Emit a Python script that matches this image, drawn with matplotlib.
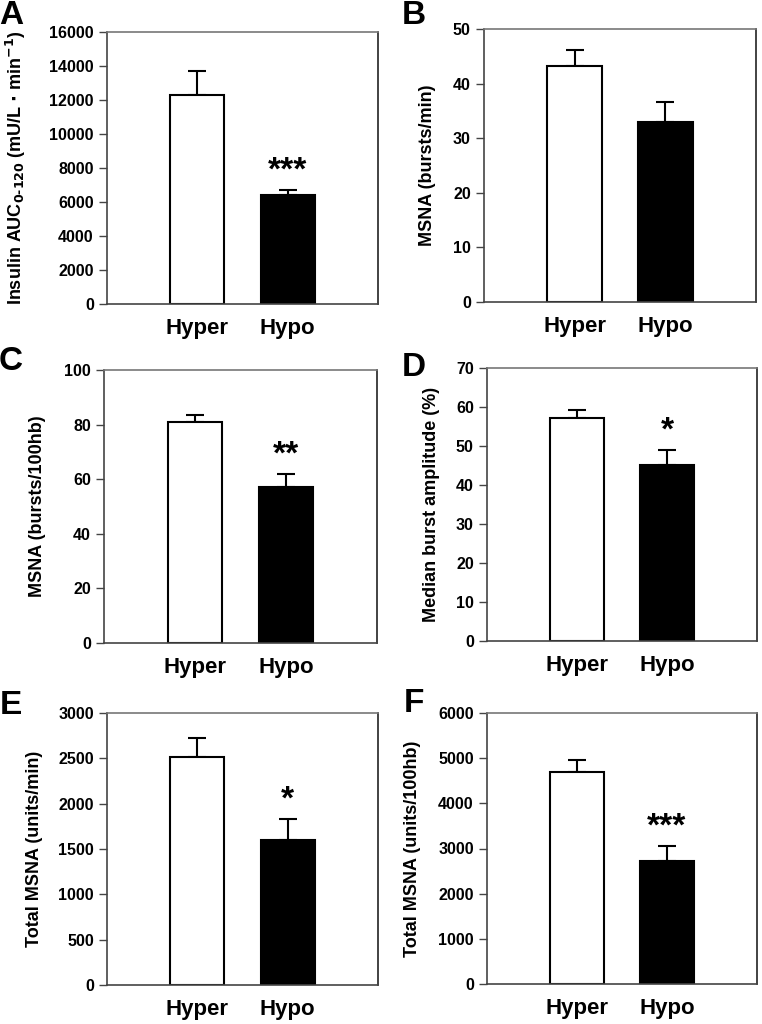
import numpy as np
import matplotlib.pyplot as plt

plt.rcParams['font.family'] = ['Liberation Sans', 'DejaVu Sans']
plt.rcParams['font.weight'] = 'bold'

groups = ['Hyper', 'Hypo']

insulin_auc = [12300, 6400]
insulin_sem = [1400, 300]

msna_freq = [43.3, 33.0]
msna_freq_sem = [2.9, 3.7]

msna_inc = [81.0, 57.0]
msna_inc_sem = [2.5, 5.0]

burst_amp = [57.2, 45.2]
burst_amp_sem = [2.0, 3.8]

total_min = [2510, 1600]
total_min_sem = [210, 230]

total_hb = [4700, 2720]
total_hb_sem = [250, 330]

stars = {'A': '***', 'B': '', 'C': '**', 'D': '*', 'E': '*', 'F': '***'}

W, H = 762, 1024
fig = plt.figure(figsize=(W / 100, H / 100), dpi=100)

# (letter, values, sem, ymax, step, ylabel, axes px box l,r,t,b, label x, letter xy)
panels = [
    ('A', insulin_auc, insulin_sem, 16000, 2000,
     r'Insulin AUC$_{\mathbf{0\text{-}120}}$ (mU/L $\cdot$ min$^{\mathbf{-1}}$)',
     (107, 378, 32, 304), -0.292, (11, 15)),
    ('B', msna_freq, msna_freq_sem, 50, 10, 'MSNA (bursts/min)',
     (484, 756, 29, 302), -0.177, (414, 15)),
    ('C', msna_inc, msna_inc_sem, 100, 20, 'MSNA (bursts/100hb)',
     (104, 377, 370, 643), -0.212, (11, 362)),
    ('D', burst_amp, burst_amp_sem, 70, 10, 'Median burst amplitude (%)',
     (487, 757, 368, 641), -0.174, (414, 368)),
    ('E', total_min, total_min_sem, 3000, 500, 'Total MSNA (units/min)',
     (107, 378, 713, 985), -0.236, (11, 705)),
    ('F', total_hb, total_hb_sem, 6000, 1000, 'Total MSNA (units/100hb)',
     (487, 757, 713, 984), -0.244, (414, 703)),
]

x = np.array([1, 2])
for letter, vals, sem, ymax, step, ylab, box, labx, lxy in panels:
    l, r, t, b = box
    ax = fig.add_axes([l / W, 1 - b / H, (r - l) / W, (b - t) / H])
    ax.bar(x, vals, width=0.6, color=['white', 'black'], edgecolor='black',
           linewidth=1.5, zorder=2)
    ax.errorbar(x, vals, yerr=[[0, 0], sem], fmt='none', ecolor='black',
                elinewidth=1.5, capsize=6.5, capthick=1.5, zorder=1)
    ax.set_xlim(0, 3)
    ax.set_ylim(0, ymax)
    ax.set_yticks(np.arange(0, ymax + step / 2, step))
    ax.set_xticks(x)
    ax.set_xticklabels(groups, fontsize=16, fontweight='bold')
    ax.tick_params(axis='x', length=0, pad=10)
    ax.tick_params(axis='y', direction='out', length=6, width=1,
                   color='#444444', labelsize=11.5)
    for sp in ax.spines.values():
        sp.set_color('#444444')
        sp.set_linewidth(1.2)
    ax.spines['top'].set_color('#777777')
    ax.spines['right'].set_color('#222222')
    ax.set_ylabel(ylab, fontsize=13, fontweight='bold')
    ax.yaxis.set_label_coords(labx, 0.5)
    s = stars[letter]
    if s:
        ax.text(2, vals[1] + sem[1] + 0.07 * ymax, s, ha='center', va='center',
                fontsize=24, fontweight='bold')
    fig.text(lxy[0] / W, 1 - lxy[1] / H, letter, fontsize=24, fontweight='bold',
             ha='center', va='center')

fig.savefig('out.png', dpi=100)
